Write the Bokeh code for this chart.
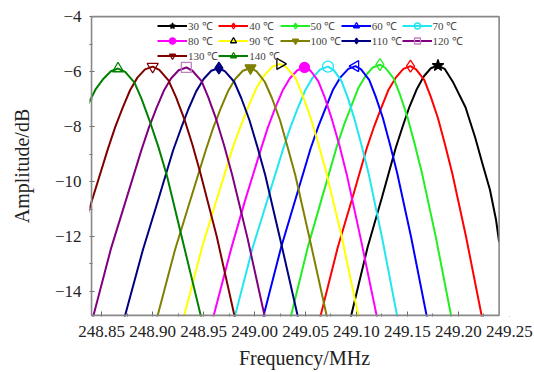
import math
from bokeh.plotting import figure
from bokeh.models import Legend, LegendItem, FixedTicker, Range1d, BoxAnnotation
from bokeh.embed import file_html
from bokeh.resources import INLINE

# ---------------- data ----------------
labels = ["30 ℃", "40 ℃", "50 ℃", "60 ℃", "70 ℃", "80 ℃",
          "90 ℃", "100 ℃", "110 ℃", "120 ℃", "130 ℃", "140 ℃"]

freq_30 = [249.094, 249.111, 249.125, 249.1385, 249.1455, 249.152, 249.1593, 249.166, 249.173, 249.180,
           249.1865, 249.195, 249.207, 249.2165, 249.224, 249.231, 249.237, 249.240]
amp_30 = [-15.0, -12.38, -10.58, -8.78, -7.98, -7.28, -6.63, -6.18, -5.88, -5.78,
          -5.90, -6.40, -7.30, -8.40, -9.40, -10.30, -11.40, -12.20]

freq_40 = [249.064, 249.0816, 249.096, 249.110, 249.1173, 249.1245, 249.1316, 249.139, 249.146, 249.153,
           249.1585, 249.1665, 249.1728, 249.180, 249.1869, 249.194, 249.2075, 249.2235]
amp_40 = [-15.0, -12.40, -10.60, -8.80, -8.00, -7.30, -6.65, -6.20, -5.90, -5.80,
          -5.92, -6.30, -6.90, -7.70, -8.65, -9.70, -12.00, -15.0]

freq_50 = [249.035, 249.0525, 249.0665, 249.0805, 249.0877, 249.095, 249.1018, 249.109, 249.116, 249.123,
           249.1285, 249.1365, 249.1428, 249.150, 249.1569, 249.164, 249.1775, 249.1935]
amp_50 = [-15.0, -12.35, -10.55, -8.75, -7.95, -7.25, -6.60, -6.15, -5.85, -5.75,
          -5.87, -6.25, -6.85, -7.65, -8.60, -9.65, -11.95, -15.0]

freq_60 = [249.008, 249.026, 249.0405, 249.055, 249.0625, 249.070, 249.0771, 249.0845, 249.092, 249.099,
           249.1045, 249.1125, 249.1188, 249.126, 249.1329, 249.140, 249.1535, 249.1695]
amp_60 = [-15.0, -12.40, -10.60, -8.80, -8.00, -7.30, -6.65, -6.20, -5.90, -5.80,
          -5.92, -6.30, -6.90, -7.70, -8.65, -9.70, -12.00, -15.0]

freq_70 = [248.980, 248.998, 249.013, 249.028, 249.0352, 249.0425, 249.0499, 249.057, 249.0645, 249.072,
           249.0775, 249.085, 249.0912, 249.098, 249.1049, 249.112, 249.125, 249.1405]
amp_70 = [-15.0, -12.42, -10.62, -8.82, -8.02, -7.32, -6.67, -6.22, -5.92, -5.82,
          -5.94, -6.32, -6.92, -7.72, -8.67, -9.72, -12.02, -15.0]

freq_80 = [248.959, 248.977, 248.991, 249.006, 249.0129, 249.020, 249.0274, 249.0345, 249.042, 249.049,
           249.055, 249.0625, 249.069, 249.076, 249.0834, 249.0905, 249.104, 249.1205]
amp_80 = [-15.0, -12.45, -10.65, -8.85, -8.05, -7.35, -6.70, -6.25, -5.95, -5.85,
          -5.97, -6.35, -6.95, -7.75, -8.70, -9.75, -12.05, -15.0]

freq_90 = [248.930, 248.949, 248.964, 248.979, 248.987, 248.9945, 249.0022, 249.010, 249.0175, 249.025,
           249.031, 249.040, 249.0467, 249.0545, 249.0622, 249.070, 249.085, 249.1025]
amp_90 = [-15.0, -12.32, -10.52, -8.72, -7.92, -7.22, -6.57, -6.12, -5.82, -5.72,
          -5.84, -6.22, -6.82, -7.62, -8.57, -9.62, -11.92, -15.0]

freq_100 = [248.904, 248.922, 248.937, 248.952, 248.9592, 248.9665, 248.9739, 248.981, 248.9885, 248.996,
            249.002, 249.010, 249.0171, 249.025, 249.0322, 249.040, 249.054, 249.0715]
amp_100 = [-15.0, -12.47, -10.67, -8.87, -8.07, -7.37, -6.72, -6.27, -5.97, -5.87,
           -5.99, -6.37, -6.97, -7.77, -8.72, -9.77, -12.07, -15.0]

freq_110 = [248.872, 248.8905, 248.9054, 248.920, 248.9278, 248.935, 248.9427, 248.950, 248.9575, 248.965,
            248.971, 248.980, 248.987, 248.995, 249.0026, 249.0105, 249.025, 249.043]
amp_110 = [-15.0, -12.47, -10.67, -8.87, -8.07, -7.37, -6.72, -6.27, -5.97, -5.87,
           -5.99, -6.37, -6.97, -7.77, -8.72, -9.77, -12.07, -15.0]

freq_120 = [248.841, 248.859, 248.874, 248.889, 248.8962, 248.9035, 248.9109, 248.918, 248.9255, 248.933,
            248.939, 248.948, 248.9547, 248.9625, 248.9702, 248.978, 248.993, 249.0105]
amp_120 = [-15.0, -12.45, -10.65, -8.85, -8.05, -7.35, -6.70, -6.25, -5.95, -5.85,
           -5.97, -6.35, -6.95, -7.75, -8.70, -9.75, -12.05, -15.0]

freq_130 = [248.808, 248.826, 248.841, 248.856, 248.8632, 248.8705, 248.8779, 248.885, 248.8925, 248.900,
            248.9065, 248.9155, 248.9228, 248.931, 248.9391, 248.947, 248.963, 248.981]
amp_130 = [-15.0, -12.42, -10.62, -8.82, -8.02, -7.32, -6.67, -6.22, -5.92, -5.82,
           -5.94, -6.32, -6.92, -7.72, -8.67, -9.72, -12.02, -15.0]

freq_140 = [248.774, 248.792, 248.807, 248.822, 248.8292, 248.8365, 248.8439, 248.851, 248.859, 248.866,
            248.873, 248.882, 248.8891, 248.897, 248.9056, 248.914, 248.929, 248.948]
amp_140 = [-15.0, -12.49, -10.69, -8.89, -7.90, -7.20, -6.65, -6.29, -5.99, -5.89,
           -6.01, -6.39, -6.99, -7.79, -8.74, -9.79, -12.09, -15.0]

freqs = [freq_30, freq_40, freq_50, freq_60, freq_70, freq_80,
         freq_90, freq_100, freq_110, freq_120, freq_130, freq_140]
amps = [amp_30, amp_40, amp_50, amp_60, amp_70, amp_80,
        amp_90, amp_100, amp_110, amp_120, amp_130, amp_140]

# axis box limits and ticks (the last x tick label sits past the box edge in the reference)
x_lo, x_hi = 248.84, 249.24
y_lo, y_hi = -14.87, -4.0
x_view = (248.838, 249.26)
y_view = (-14.91, -3.96)
x_ticks = [248.85, 248.90, 248.95, 249.00, 249.05, 249.10, 249.15, 249.20, 249.25]
x_tick_labels = ["248.85", "248.90", "248.95", "249.00", "249.05", "249.10", "249.15", "249.20", "249.25"]
x_minor = [248.875, 248.925, 248.975, 249.025, 249.075, 249.125, 249.175, 249.225]
y_ticks = [-14, -12, -10, -8, -6, -4]
y_tick_labels = ["−14", "−12", "−10", "−8", "−6", "−4"]
y_minor = [-13, -11, -9, -7, -5]

# ---------------- styles ----------------
colors = ["#000000", "#ff0000", "#22ee22", "#0000ff", "#22e6f0", "#ff00ff",
          "#ffff00", "#808000", "#000080", "#800080", "#800000", "#008000"]
markers = ["star", "diamond", "diamond", "triangle", "circle", "circle",
           "triangle", "inverted_triangle", "diamond", "square", "inverted_triangle", "triangle"]
m_line = ["#000000", "#ff0000", "#22ee22", "#0000ff", "#22e6f0", "#ff00ff",
          "#000000", "#808000", "#000080", "#c080c0", "#800000", "#008000"]
m_fill_alpha = [1, 0, 0, 0, 0, 1, 0, 1, 1, 0, 0, 0]
m_angle = [0, 0, 0, math.pi / 2, 0, 0, -math.pi / 2, 0, 0, 0, 0, 0]
m_size = [12, 12, 12, 11, 11, 10, 11, 11, 12, 10, 11, 11]

SERIF = "Liberation Serif"
FRAME = "#888888"

p = figure(width=534, height=372,
           x_range=Range1d(*x_view), y_range=Range1d(*y_view),
           output_backend="svg", toolbar_location=None,
           min_border_left=89, min_border_right=15,
           min_border_top=15, min_border_bottom=56)
p.xgrid.visible = False
p.ygrid.visible = False
p.outline_line_color = None
p.background_fill_color = "white"
p.border_fill_color = "white"

for ax in (p.xaxis[0], p.yaxis[0]):
    ax.axis_line_color = None
    ax.major_tick_line_color = "#666666"
    ax.minor_tick_line_color = "#666666"
    ax.major_tick_in = 5
    ax.major_tick_out = 0
    ax.minor_tick_in = 3
    ax.minor_tick_out = 0
    ax.major_label_text_font = SERIF
    ax.major_label_text_font_size = "17px"
    ax.major_label_text_color = "#222222"
    ax.axis_label_text_font = SERIF
    ax.axis_label_text_font_size = "20px"
    ax.axis_label_text_font_style = "normal"
    ax.axis_label_text_color = "#222222"

p.xaxis.ticker = FixedTicker(ticks=x_ticks, minor_ticks=x_minor)
p.xaxis.major_label_overrides = dict(zip(x_ticks, x_tick_labels))
p.xaxis.major_label_standoff = 9
p.xaxis.axis_label = "Frequency/MHz"
p.xaxis.axis_label_standoff = 7

p.yaxis.ticker = FixedTicker(ticks=y_ticks, minor_ticks=y_minor)
p.yaxis.major_label_overrides = dict(zip(y_ticks, y_tick_labels))
p.yaxis.major_label_standoff = 8
p.yaxis.axis_label = "Amplitude/dB"
p.yaxis.axis_label_standoff = 19

items = []
for i in range(len(labels)):
    f, a = freqs[i], amps[i]
    k = a.index(max(a))
    r_line = p.line(f, a, line_color=colors[i], line_width=2)
    r_mark = p.scatter([f[k]], [a[k]], marker=markers[i], size=m_size[i],
                       line_color=m_line[i], fill_color=m_line[i],
                       fill_alpha=m_fill_alpha[i], line_width=1.3, angle=m_angle[i])
    items.append(LegendItem(label=labels[i], renderers=[r_line, r_mark]))

# white strip past the box's right edge
p.add_layout(BoxAnnotation(left=x_hi, fill_color="white", fill_alpha=1.0,
                           line_alpha=0, level="annotation"))
# the axis box, drawn on top of everything
p.quad(left=[x_lo], right=[x_hi], bottom=[y_lo], top=[y_hi],
       fill_alpha=0, line_color=FRAME, line_width=1.6, level="overlay")

legend = Legend(items=items, location=(68, 253), orientation="horizontal", ncols=5,
                background_fill_alpha=0, border_line_alpha=0,
                label_text_font=SERIF, label_text_font_size="11px",
                glyph_width=30, glyph_height=15, label_height=15,
                label_standoff=1, spacing=0, padding=0, margin=0)
p.add_layout(legend)

open("out.html", "w").write(file_html(p, INLINE))
